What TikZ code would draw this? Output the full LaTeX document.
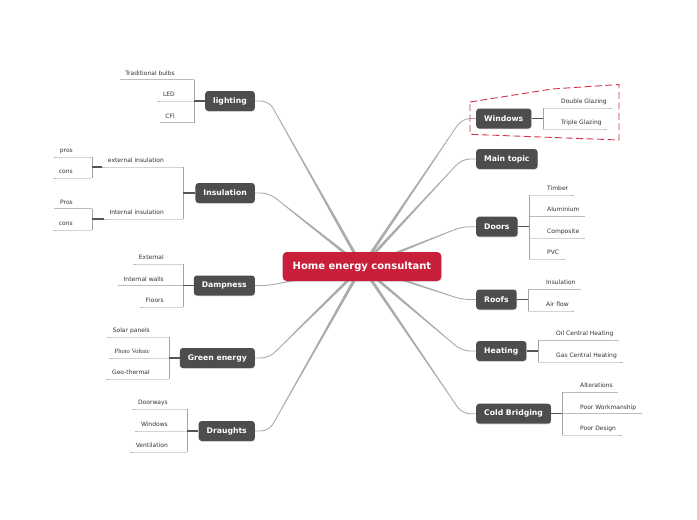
\documentclass[tikz,border=0pt]{standalone}
\usepackage{fontspec}
\setmainfont{DejaVu Sans}
\newfontfamily\pvfont{Liberation Serif}
\usetikzlibrary{calc,shadows}
\pgfdeclarelayer{bg}
\pgfsetlayers{bg,main}
\definecolor{topicgray}{HTML}{4D4D4D}
\definecolor{centerred}{HTML}{C8203A}
\definecolor{conngray}{HTML}{ABABAB}
\definecolor{leafgray}{HTML}{BDBDBD}
\definecolor{brackgray}{HTML}{A3A3A3}
\definecolor{stemgray}{HTML}{555555}
\definecolor{leaftext}{HTML}{333333}
\definecolor{boundred}{HTML}{D0354D}
\tikzset{
 topic/.style={fill=topicgray, text=white, rounded corners=3pt,
   font=\fontsize{7.7}{9}\selectfont\bfseries, minimum height=20pt,
   inner xsep=8pt, inner ysep=0pt,
   drop shadow={opacity=0.2, shadow xshift=0.4pt, shadow yshift=-0.8pt}},
 central/.style={fill=centerred, text=white, rounded corners=4pt,
   font=\fontsize{10}{12}\selectfont\bfseries, minimum height=29pt,
   inner xsep=10pt, inner ysep=0pt,
   drop shadow={opacity=0.2, shadow xshift=0.4pt, shadow yshift=-0.8pt}},
 leaf/.style={inner sep=0pt, text=leaftext, font=\fontsize{6}{7}\selectfont},
 leafline/.style={draw=leafgray, line width=0.8pt},
 bracketline/.style={draw=brackgray, line width=0.8pt},
 stemline/.style={draw=stemgray, line width=1.1pt},
 conn/.style={fill=conngray},
 connthin/.style={draw=conngray, line width=0.9pt, rounded corners=8pt},
 boundary/.style={draw=boundred, line width=0.9pt, dash pattern=on 7pt off 3.5pt},
}
\newcommand\leafL[4]{%
 \coordinate (#1u) at (#2,#3);
 \node[leaf, anchor=base east] (#1) at (#2-19,#3-4.4) {#4};
 \draw[leafline] (#1u) -- (#1.west |- #1u) -- ++(-5.5,0);}
\newcommand\leafR[4]{%
 \coordinate (#1u) at (#2,#3);
 \node[leaf, anchor=base west] (#1) at (#2+18,#3-4.4) {#4};
 \draw[leafline] (#1u) -- (#1.east |- #1u) -- ++(5.5,0);}
\newcommand\branchL[1]{%
 \coordinate (#1B) at ($(#1.east)+(14,0)$);
 \coordinate (#1M) at ($(hubnode.center)!0.88!(#1B)$);
 \fill[conn] ($(hubnode.center)!1.6pt!90:(#1M)$) -- ($(#1M)!0.45pt!-90:(hubnode.center)$)
   -- ($(#1M)!0.45pt!90:(hubnode.center)$) -- ($(hubnode.center)!1.6pt!-90:(#1M)$) -- cycle;
 \draw[connthin] (#1M) -- (#1B) -- (#1.east);}
\newcommand\branchR[1]{%
 \coordinate (#1B) at ($(#1.west)+(-14,0)$);
 \coordinate (#1M) at ($(hubnode.center)!0.88!(#1B)$);
 \fill[conn] ($(hubnode.center)!1.6pt!90:(#1M)$) -- ($(#1M)!0.45pt!-90:(hubnode.center)$)
   -- ($(#1M)!0.45pt!90:(hubnode.center)$) -- ($(hubnode.center)!1.6pt!-90:(#1M)$) -- cycle;
 \draw[connthin] (#1M) -- (#1B) -- (#1.west);}
\begin{document}
\begin{tikzpicture}[x=1pt,y=-1pt]
\begin{pgfonlayer}{bg}
\fill[white] (0,0) rectangle (697,520);
\end{pgfonlayer}
\useasboundingbox (0,0) rectangle (697,520);

% central
\node[central] (hubnode) at (362,266.5) {Home energy consultant};

% left topics
\node[topic, anchor=east] (lighting) at (255,101) {lighting};
\node[topic, anchor=east] (insulation) at (255,193) {Insulation};
\node[topic, anchor=east] (dampness) at (255,285.5) {Dampness};
\node[topic, anchor=east] (green) at (255,358) {Green energy};
\node[topic, anchor=east] (draughts) at (255,431) {Draughts};
% right topics
\node[topic, anchor=west] (windows) at (476,118.5) {Windows};
\node[topic, anchor=west] (maintopic) at (476,159) {Main topic};
\node[topic, anchor=west] (doors) at (476,226.7) {Doors};
\node[topic, anchor=west] (roofs) at (476,299.5) {Roofs};
\node[topic, anchor=west] (heating) at (476,351) {Heating};
\node[topic, anchor=west] (coldbr) at (476,413.7) {Cold Bridging};

\begin{pgfonlayer}{bg}
\branchL{lighting}\branchL{insulation}\branchL{dampness}\branchL{green}\branchL{draughts}
\branchR{windows}\branchR{maintopic}\branchR{doors}\branchR{roofs}\branchR{heating}\branchR{coldbr}
\end{pgfonlayer}

% lighting
\leafL{tb}{194}{79.5}{Traditional bulbs}
\leafL{led}{194}{101}{LED}
\leafL{cfl}{194}{122.5}{CFl}
\draw[bracketline] (tbu) -- (cflu);
\draw[stemline] (lighting.west) -- (lighting.west -| tbu);

% insulation
\leafL{ext}{183}{167}{external insulation}
\leafL{int}{183}{219}{Internal insulation}
\draw[bracketline] (extu) -- (intu);
\draw[stemline] (insulation.west) -- (insulation.west -| extu);
\leafL{prosa}{92}{157}{pros}
\leafL{consa}{92}{178}{cons}
\draw[bracketline] (prosau) -- (consau);
\draw[stemline] ($(ext.west |- extu)+(-5.5,0)$) -- (extu -| prosau);
\leafL{prosb}{92}{208.5}{Pros}
\leafL{consb}{92}{230}{cons}
\draw[bracketline] (prosbu) -- (consbu);
\draw[stemline] ($(int.west |- intu)+(-5.5,0)$) -- (intu -| prosbu);

% dampness
\leafL{dext}{183}{264}{External}
\leafL{dint}{183}{285.5}{Internal walls}
\leafL{dfl}{183}{307}{Floors}
\draw[bracketline] (dextu) -- (dflu);
\draw[stemline] (dampness.west) -- (dampness.west -| dextu);

% green energy
\leafL{solar}{169}{337}{Solar panels}
\leafL{pv}{169}{358}{{\pvfont\fontsize{6.5}{7}\selectfont Photo Voltaic}}
\leafL{geo}{169}{379}{Geo-thermal}
\draw[bracketline] (solaru) -- (geou);
\draw[stemline] (green.west) -- (green.west -| solaru);

% draughts
\leafL{door}{187}{409}{Doorways}
\leafL{win}{187}{431}{Windows}
\leafL{vent}{187}{452}{Ventilation}
\draw[bracketline] (dooru) -- (ventu);
\draw[stemline] (draughts.west) -- (draughts.west -| dooru);

% windows
\leafR{dg}{543}{108}{Double Glazing}
\leafR{tg}{543}{129}{Triple Glazing}
\draw[bracketline] (dgu) -- (tgu);
\draw[stemline] (windows.east) -- (windows.east -| dgu);
\draw[boundary] (470,102) -- (552,89) -- (619,84.5) -- (619,140) -- (470,134.3) -- cycle;

% doors
\leafR{timber}{529}{195}{Timber}
\leafR{alu}{529}{216.3}{Aluminium}
\leafR{comp}{529}{238}{Composite}
\leafR{pvc}{529}{259}{PVC}
\draw[bracketline] (timberu) -- (pvcu);
\draw[stemline] (doors.east) -- (doors.east -| timberu);

% roofs
\leafR{rins}{528}{289.3}{Insulation}
\leafR{air}{528}{311}{Air flow}
\draw[bracketline] (rinsu) -- (airu);
\draw[stemline] (roofs.east) -- (roofs.east -| rinsu);

% heating
\leafR{oil}{538}{340.3}{Oil Central Heating}
\leafR{gas}{538}{362}{Gas Central Heating}
\draw[bracketline] (oilu) -- (gasu);
\draw[stemline] (heating.east) -- (heating.east -| oilu);

% cold bridging
\leafR{alt}{562}{392.3}{Alterations}
\leafR{pw}{562}{413.7}{Poor Workmanship}
\leafR{pd}{562}{435}{Poor Design}
\draw[bracketline] (altu) -- (pdu);
\draw[stemline] (coldbr.east) -- (coldbr.east -| altu);
\end{tikzpicture}
\end{document}
